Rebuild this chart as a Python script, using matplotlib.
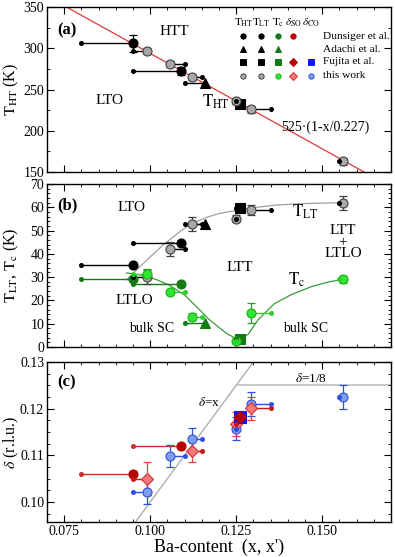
import numpy as np
import matplotlib
matplotlib.use('Agg')
import matplotlib.pyplot as plt
from matplotlib.ticker import MultipleLocator

plt.rcParams['font.family'] = ['Liberation Serif', 'DejaVu Serif']
plt.rcParams['mathtext.fontset'] = 'stix'

# ---- data: x = nominal, xp = x' (measured) ----
# panel (a) T_HT
a_dun_x = [0.080, 0.095]
a_dun_xp = [0.095, 0.109]
a_dun_T = [306, 272]
a_dun_err = [10, 5]

a_ada_x = [0.110]
a_ada_xp = [0.116]
a_ada_T = [258]

a_fuj_x = [0.125]
a_fuj_xp = [0.126]
a_fuj_T = [233]

tw_x = [0.095, 0.110, 0.115, 0.125, 0.135, 0.155]
tw_xp = [0.099, 0.1057, 0.112, 0.125, 0.1293, 0.156]
a_tw_T = [296.7, 281, 265, 236, 226, 163]
a_tw_err = [4, 4, 4, 4, 4, 4]

# panel (b) T_LT and Tc
b_dun_LT = [35, 44.6]
b_dun_c = [29, 27]
b_ada_LT = [53]
b_ada_c = [10.3]
b_fuj_LT = [59.7]
b_fuj_c = [3.4]
b_tw_LT = [30, 42, 52.8, 55, 58.8, 62]
b_tw_LT_err = [3, 3, 3, 1.5, 2, 3]
b_tw_c = [31.5, 23.6, 12.9, 2.6, 14.6, 29]
b_tw_c_err = [2, 1, 1.5, 1, 4.5, 1.5]

fit_LT_x = [0.0931, 0.097, 0.1006, 0.1035, 0.1063, 0.109, 0.112, 0.116, 0.120,
            0.125, 0.1293, 0.137, 0.145, 0.156]
fit_LT_T = [28.8, 34.5, 39.5, 43.5, 46.8, 50, 52.8, 55.5, 57.3, 58.7, 59.7, 61,
            61.6, 62]
fit_c_x = [0.0931, 0.097, 0.1017, 0.1055, 0.110, 0.114, 0.117, 0.1198, 0.1225,
           0.1247, 0.1265, 0.1285, 0.1313, 0.136, 0.141, 0.147, 0.152, 0.156]
fit_c_T = [31.8, 31, 29, 26.6, 22.3, 16.5, 12, 8.6, 5.5, 3.9, 3.6, 5.5, 11.6,
           18.5, 22.5, 26, 28, 29]

# panel (c) delta
c_dun_SO = [0.1060, 0.1120]
c_fuj_SO = [0.1182]
c_fuj_CO = [0.1182]
c_tw_SO_x = [0.095, 0.115, 0.125, 0.135]
c_tw_SO_xp = [0.099, 0.112, 0.125, 0.1293]
c_tw_SO = [0.1050, 0.1110, 0.1167, 0.1201]
c_tw_SO_err = [0.0035, 0.0025, 0.0025, 0.0025]
c_tw_CO = [0.1022, 0.1099, 0.1135, 0.1157, 0.1210, 0.1225]
c_tw_CO_err = [0.0027, 0.0024, 0.0024, 0.0025, 0.0025, 0.0025]

# colours
GRAY = '#a8a8a8'
DKGREEN = '#147a14'
LTGREEN = '#2ee62e'
DKRED = '#b80000'
LTRED = '#f27a7a'
BLUE = '#1414ff'
LTBLUE = '#7e9ef2'


def series(ax, x, xp, y, marker, fc, ec, lc, err=None, errc=None, ms=6.5, dot=True):
    for xi, xpi, yi in zip(x, xp, y):
        ax.plot([xi, xpi], [yi, yi], color=lc, lw=1, zorder=2)
    if err is not None:
        ax.errorbar(xp, y, yerr=err, fmt='none', ecolor=errc or ec, elinewidth=0.9,
                    capsize=3, capthick=0.9, zorder=3)
    ax.plot(xp, y, marker, mfc=fc, mec=ec, mew=0.8, ms=ms, ls='none', zorder=4)
    if dot:
        ax.plot(x, y, 'o', color=lc, ms=2.6, ls='none', zorder=5)


fig = plt.figure(figsize=(3.95, 5.57), dpi=100)
L, W = 0.119, 0.871
ax1 = fig.add_axes([L, 0.6912, W, 0.2962])
ax2 = fig.add_axes([L, 0.3770, W, 0.2927])
ax3 = fig.add_axes([L, 0.0628, W, 0.2873])

for ax in (ax1, ax2, ax3):
    ax.set_xlim(0.07, 0.17)
    ax.xaxis.set_major_locator(MultipleLocator(0.025))
    ax.xaxis.set_minor_locator(MultipleLocator(0.005))
    ax.tick_params(which='both', direction='in', top=True, right=True, labelsize=10, pad=2)
    ax.tick_params(which='major', length=5)
    ax.tick_params(which='minor', length=2.5)
    for s in ax.spines.values():
        s.set_linewidth(1.0)

# ---- (a) ----
xx = np.array([0.07, 0.17])
ax1.plot(xx, 525 * (1 - xx / 0.227), color='#d83a3a', lw=0.9, zorder=1)
series(ax1, a_dun_x, a_dun_xp, a_dun_T, 'o', 'k', 'k', 'k', err=a_dun_err)
series(ax1, a_ada_x, a_ada_xp, a_ada_T, '^', 'k', 'k', 'k')
series(ax1, a_fuj_x, a_fuj_xp, a_fuj_T, 's', 'k', 'k', 'k', dot=False)
series(ax1, tw_x, tw_xp, a_tw_T, 'o', GRAY, '#404040', 'k', err=a_tw_err, errc='#404040')
ax1.set_ylim(150, 350)
ax1.yaxis.set_major_locator(MultipleLocator(50))
ax1.yaxis.set_minor_locator(MultipleLocator(25))
ax1.set_xticklabels([])
ax1.set_ylabel(r'$\mathrm{T_{HT}}$ (K)', fontsize=11.5)
ax1.text(0.058, 0.86, '(a)', transform=ax1.transAxes, fontsize=12, fontweight='bold',
         ha='center', va='center')
ax1.text(0.1069, 320, 'HTT', fontsize=11, ha='center', va='center')
ax1.text(0.0882, 237, 'LTO', fontsize=11, ha='center', va='center')
ax1.text(0.1192, 235, r'$\mathrm{T_{HT}}$', fontsize=12, ha='center', va='center')
ax1.text(0.1509, 204.5, '525·(1-x/0.227)', fontsize=10, ha='center', va='center')

# legend table
cols = [0.570, 0.622, 0.671, 0.715, 0.767]
rows = [0.824, 0.745, 0.667, 0.582]
heads = [r'$\mathrm{T_{HT}}$', r'$\mathrm{T_{LT}}$', r'$\mathrm{T_{c}}$',
         r'$\delta_{\mathrm{SO}}$', r'$\delta_{\mathrm{CO}}$']
for cx, h in zip(cols, heads):
    ax1.text(cx, 0.905, h, transform=ax1.transAxes, fontsize=8, ha='center', va='center')
legend_rows = [
    ('Dunsiger et al.', [('o', 'k', 'k'), ('o', 'k', 'k'), ('o', DKGREEN, DKGREEN),
                         ('o', DKRED, DKRED), None]),
    ('Adachi et al.', [('^', 'k', 'k'), ('^', 'k', 'k'), ('^', DKGREEN, DKGREEN), None, None]),
    ('Fujita et al.', [('s', 'k', 'k'), ('s', 'k', 'k'), ('s', DKGREEN, DKGREEN),
                       ('D', DKRED, DKRED), ('s', BLUE, BLUE)]),
    ('this work', [('o', GRAY, '#404040'), ('o', GRAY, '#404040'), ('o', LTGREEN, '#22b022'),
                   ('D', LTRED, '#d83030'), ('o', LTBLUE, '#3050e0')]),
]
for ry, (lab, marks) in zip(rows, legend_rows):
    for cx, m in zip(cols, marks):
        if m is None:
            continue
        ax1.plot([cx], [ry], m[0], mfc=m[1], mec=m[2], mew=0.7, ms=3.8,
                 transform=ax1.transAxes, clip_on=False)
    ax1.text(0.802, ry, lab, transform=ax1.transAxes, fontsize=8.2, ha='left', va='center')

# ---- (b) ----
ax2.plot(fit_LT_x, fit_LT_T, color='#a0a0a0', lw=0.9, zorder=1)
ax2.plot(fit_c_x, fit_c_T, color='#3a9a3a', lw=0.9, zorder=1)
series(ax2, a_dun_x, a_dun_xp, b_dun_LT, 'o', 'k', 'k', 'k')
series(ax2, a_dun_x, a_dun_xp, b_dun_c, 'o', DKGREEN, DKGREEN, DKGREEN)
series(ax2, a_ada_x, a_ada_xp, b_ada_LT, '^', 'k', 'k', 'k')
series(ax2, a_ada_x, a_ada_xp, b_ada_c, '^', DKGREEN, DKGREEN, DKGREEN)
series(ax2, a_fuj_x, a_fuj_xp, b_fuj_LT, 's', 'k', 'k', 'k')
series(ax2, a_fuj_x, a_fuj_xp, b_fuj_c, 's', DKGREEN, DKGREEN, DKGREEN)
series(ax2, tw_x, tw_xp, b_tw_LT, 'o', GRAY, '#404040', 'k', err=b_tw_LT_err, errc='#404040')
series(ax2, tw_x, tw_xp, b_tw_c, 'o', LTGREEN, '#22b022', '#33cc33', err=b_tw_c_err,
       errc='#22a022')
ax2.set_ylim(0, 70)
ax2.yaxis.set_major_locator(MultipleLocator(10))
ax2.yaxis.set_minor_locator(MultipleLocator(2))
ax2.set_xticklabels([])
ax2.set_ylabel(r'$\mathrm{T_{LT}}$, $\mathrm{T_c}$ (K)', fontsize=11.5)
ax2.text(0.058, 0.87, '(b)', transform=ax2.transAxes, fontsize=12, fontweight='bold',
         ha='center', va='center')
ax2.text(0.0945, 60, 'LTO', fontsize=11, ha='center', va='center')
ax2.text(0.1451, 58, r'$\mathrm{T_{LT}}$', fontsize=12, ha='center', va='center')
ax2.text(0.1261, 34.3, 'LTT', fontsize=11, ha='center', va='center')
ax2.text(0.156, 45, 'LTT\n+\nLTLO', fontsize=11, ha='center', va='center', linespacing=0.85)
ax2.text(0.1426, 28.8, r'$\mathrm{T_c}$', fontsize=12, ha='center', va='center')
ax2.text(0.0954, 20, 'LTLO', fontsize=11, ha='center', va='center')
ax2.text(0.1003, 8, 'bulk SC', fontsize=10, ha='center', va='center')
ax2.text(0.1451, 8, 'bulk SC', fontsize=10, ha='center', va='center')

# ---- (c) ----
ax3.plot([0.0957, 0.13], [0.0957, 0.13], color='#a8a8a8', lw=0.9, zorder=1)
ax3.plot([0.125, 0.17], [0.125, 0.125], color='#c0c0c0', lw=1.2, zorder=1)
series(ax3, a_dun_x, a_dun_xp, c_dun_SO, 'o', DKRED, DKRED, '#c83030')
series(ax3, tw_x, tw_xp, c_tw_CO, 'o', LTBLUE, '#3050e0', '#3050e0', err=c_tw_CO_err,
       errc='#3050e0')
series(ax3, c_tw_SO_x, c_tw_SO_xp, c_tw_SO, 'D', LTRED, '#d83030', '#c81818',
       err=c_tw_SO_err, errc='#e04040', ms=6)
series(ax3, a_fuj_x, a_fuj_xp, c_fuj_CO, 's', BLUE, BLUE, BLUE, ms=8, dot=False)
series(ax3, a_fuj_x, a_fuj_xp, c_fuj_SO, 'D', DKRED, DKRED, DKRED, ms=6)
ax3.set_ylim(0.0957, 0.13)
ax3.yaxis.set_major_locator(MultipleLocator(0.01))
ax3.yaxis.set_minor_locator(MultipleLocator(0.0025))
ax3.set_xticks([0.075, 0.100, 0.125, 0.150])
ax3.set_xticklabels(['0.075', '0.100', '0.125', '0.150'])
ax3.set_yticks([0.10, 0.11, 0.12, 0.13])
ax3.set_yticklabels(['0.10', '0.11', '0.12', '0.13'])
ax3.set_ylabel(r'$\delta$ (r.l.u.)', fontsize=11.5)
ax3.set_xlabel("Ba-content  (x, x')", fontsize=13, labelpad=1)
ax3.text(0.058, 0.875, '(c)', transform=ax3.transAxes, fontsize=12, fontweight='bold',
         ha='center', va='center')
ax3.text(0.117, 0.1214, r'$\delta$=x', fontsize=9.5, ha='center', va='center')
ax3.text(0.1466, 0.1264, r'$\delta$=1/8', fontsize=9.5, ha='center', va='center')

for ax in (ax1, ax2, ax3):
    ax.yaxis.set_label_coords(-0.075, 0.5)

fig.savefig('out.png', dpi=100)
